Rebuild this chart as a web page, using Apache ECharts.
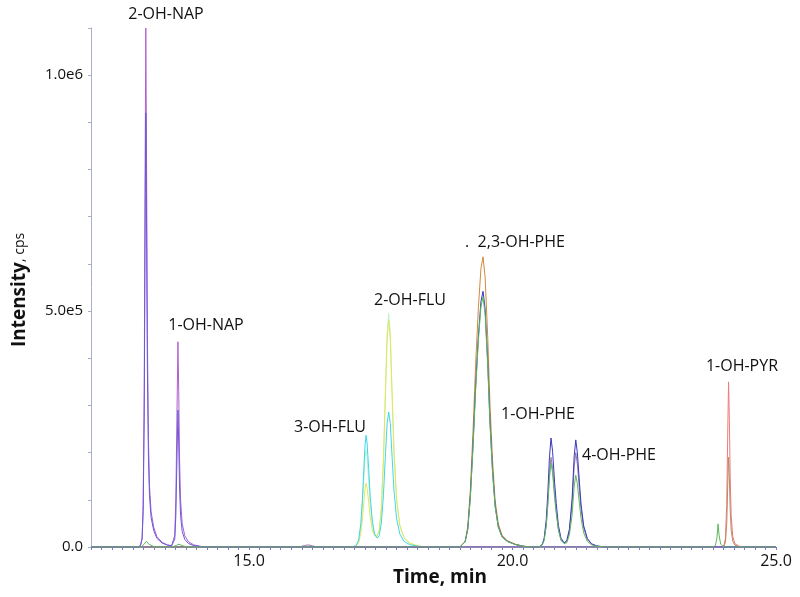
<!DOCTYPE html>
<html>
<head>
<meta charset="utf-8">
<script src="https://cdn.jsdelivr.net/npm/echarts@6/dist/echarts.min.js"></script>
<style>
html,body{margin:0;padding:0;background:#fff;}
#main{width:800px;height:597px;}
</style>
</head>
<body>
<div id="main"></div>
<script>
// ---- axis settings ----
const xMin = 12.0, xMax = 25.0;
const xTickLabels = [15, 20, 25];
const yTickLabels = [0, 500000, 1000000];
const yTickText = ['0.0', '5.0e5', '1.0e6'];

// ---- traces: [time (min), intensity (cps)] ----
// purple trace
const purpleNap2 = [[12.9,0],[12.94,4000],[12.97,20000],[12.99,90000],[13.01,330000],[13.025,750000],[13.04,1100000],[13.055,800000],[13.07,450000],[13.09,230000],[13.11,130000],[13.14,75000],[13.19,42000],[13.25,22000],[13.35,10000],[13.45,4500],[13.53,3000]];
const purpleNap1 = [[13.56,5000],[13.59,25000],[13.61,100000],[13.63,270000],[13.65,435000],[13.665,330000],[13.68,190000],[13.7,100000],[13.73,50000],[13.78,24000],[13.85,11000],[13.95,4500],[14.1,1000],[14.3,0]];
// violet trace
const violetNap2 = [[12.9,0],[12.94,3300],[12.97,16700],[12.99,75000],[13.01,276000],[13.025,627000],[13.04,920000],[13.055,670000],[13.07,376000],[13.09,192000],[13.11,109000],[13.14,63000],[13.19,35000],[13.25,18400],[13.35,8400],[13.45,3800],[13.53,2500]];
const violetNap1 = [[13.56,3300],[13.59,16700],[13.61,67000],[13.63,180000],[13.65,290000],[13.665,220000],[13.68,127000],[13.7,67000],[13.73,33000],[13.78,16000],[13.85,7300],[13.95,3000],[14.1,700],[14.3,0]];
// cyan trace
const cyanFlu = [[16.95,0],[17.03,3000],[17.08,15000],[17.12,50000],[17.15,100000],[17.18,170000],[17.2,215000],[17.22,237000],[17.24,220000],[17.27,165000],[17.3,105000],[17.34,55000],[17.38,28000],[17.43,19000],[17.47,24000],[17.51,50000],[17.55,110000],[17.59,200000],[17.62,262000],[17.65,286000],[17.68,262000],[17.71,200000],[17.75,120000],[17.8,60000],[17.86,28000],[17.94,12000],[18.05,5000],[18.2,1500],[18.35,0]];
// yellow trace
const yellowFlu = [[16.95,0],[17.03,2000],[17.08,9000],[17.12,29000],[17.15,58000],[17.18,98000],[17.2,124000],[17.22,135000],[17.24,125000],[17.27,95000],[17.3,62000],[17.34,36000],[17.38,24000],[17.43,22000],[17.47,34000],[17.51,80000],[17.55,180000],[17.59,330000],[17.62,440000],[17.65,480000],[17.68,440000],[17.71,335000],[17.75,200000],[17.8,100000],[17.86,46000],[17.94,20000],[18.05,8000],[18.2,2500],[18.35,0]];
// pale green trace
const paleFlu = [[16.95,0],[17.03,2500],[17.08,12000],[17.12,40000],[17.15,85000],[17.18,150000],[17.2,190000],[17.22,205000],[17.24,190000],[17.27,140000],[17.3,90000],[17.34,48000],[17.38,27000],[17.43,24000],[17.47,36000],[17.51,85000],[17.55,190000],[17.59,345000],[17.62,455000],[17.65,495000],[17.68,455000],[17.71,345000],[17.75,205000],[17.8,102000],[17.86,47000],[17.94,20000],[18.05,8000],[18.2,2500],[18.35,0]];
// orange trace
const orangePhe = [[19.0,0],[19.1,12000],[19.15,43000],[19.2,123000],[19.25,246000],[19.3,387000],[19.35,504000],[19.4,590000],[19.44,615000],[19.48,572000],[19.53,443000],[19.57,308000],[19.62,185000],[19.67,98000],[19.73,49000],[19.8,25000],[19.9,13500],[20.05,6000],[20.2,2000],[20.35,0]];
// dark blue trace
const bluePhe23 = [[19.0,0],[19.1,11000],[19.15,38000],[19.2,108000],[19.25,217000],[19.3,341000],[19.35,444000],[19.4,520000],[19.44,542000],[19.48,504000],[19.53,390000],[19.57,271000],[19.62,163000],[19.67,87000],[19.73,43000],[19.8,22000],[19.9,12000],[20.05,5400],[20.2,1600],[20.35,0]];
const bluePhe14 = [[20.5,0],[20.56,4600],[20.6,18500],[20.64,58000],[20.67,115000],[20.7,189000],[20.73,231000],[20.76,203000],[20.8,134000],[20.83,92000],[20.87,46000],[20.92,18500],[20.98,9000],[21.03,13600],[21.08,38600],[21.13,102000],[21.17,193000],[21.2,227000],[21.23,200000],[21.27,136000],[21.3,91000],[21.35,45000],[21.42,18000],[21.5,6800],[21.6,2300],[21.75,0]];
// mauve trace
const mauveBump = [[15.95,0],[16.05,3000],[16.12,4500],[16.2,2500],[16.3,0]];
const mauvePhe14 = [[20.5,0],[20.56,3800],[20.6,15200],[20.64,47500],[20.67,95000],[20.7,156000],[20.73,190000],[20.76,167000],[20.8,110000],[20.83,76000],[20.87,38000],[20.92,15200],[20.98,7600],[21.03,12000],[21.08,34000],[21.13,90000],[21.17,170000],[21.2,200000],[21.23,176000],[21.27,120000],[21.3,80000],[21.35,40000],[21.42,16000],[21.5,6000],[21.6,2000],[21.75,0]];
// green trace
const greenNap = [[12.95,0],[13.0,5000],[13.05,12000],[13.1,6000],[13.18,1500],[13.25,0],[13.55,0],[13.62,3500],[13.67,6000],[13.73,3000],[13.82,0]];
const greenPhe23 = [[19.0,0],[19.1,10600],[19.15,37000],[19.2,106000],[19.25,212000],[19.3,334000],[19.35,435000],[19.4,509000],[19.44,530000],[19.48,493000],[19.53,382000],[19.57,265000],[19.62,159000],[19.67,85000],[19.73,42000],[19.8,21000],[19.9,11700],[20.05,5300],[20.2,1600],[20.35,0]];
const greenPhe14 = [[20.5,0],[20.56,3600],[20.6,14000],[20.64,44500],[20.67,89000],[20.7,146000],[20.73,178000],[20.76,157000],[20.8,103000],[20.83,71000],[20.87,36000],[20.92,14000],[20.98,7000],[21.03,9000],[21.08,26000],[21.13,68000],[21.17,129000],[21.2,152000],[21.23,134000],[21.27,91000],[21.3,61000],[21.35,30000],[21.42,12000],[21.5,4600],[21.6,1500],[21.75,0]];
const greenPyr = [[23.8,0],[23.85,3000],[23.88,20000],[23.9,49000],[23.92,25000],[23.95,6000],[24.0,1000],[24.05,0]];
// red trace
const redPyr = [[23.95,0],[24.01,3000],[24.04,18000],[24.065,90000],[24.085,250000],[24.1,350000],[24.115,270000],[24.13,150000],[24.15,65000],[24.18,22000],[24.22,7000],[24.3,1500],[24.4,0]];
// brown trace
const brownPyr = [[23.95,0],[24.01,1600],[24.04,9800],[24.065,49000],[24.085,136000],[24.1,190000],[24.115,147000],[24.13,81000],[24.15,35000],[24.18,12000],[24.22,3800],[24.3,800],[24.4,0]];

// peak labels
const peakNames = ['2-OH-NAP', '1-OH-NAP', '3-OH-FLU', '2-OH-FLU', '.  2,3-OH-PHE', '1-OH-PHE', '4-OH-PHE', '1-OH-PYR'];

// ---- layout / style (not data) ----
const labelPos = [[166,14],[206,325],[330,427],[410,300],[515,242],[538,414],[619,455],[742,366]];
const gridBox = {left:91, right:24, top:28, bottom:50};

const start = [[xMin,0]], end = [[xMax,0]];
function trace(name, color, parts, z) {
  return {
    name: name, type: 'line', showSymbol: false, symbol: 'none', z: z || 2,
    lineStyle: {width: 1, color: color}, itemStyle: {color: color},
    data: start.concat(...parts, end), animation: false, clip: true
  };
}

const series = [
  trace('pale', '#bff2c8', [paleFlu], 1),
  trace('yellow', '#e4e65a', [yellowFlu], 2),
  trace('cyan', '#3fd6ea', [cyanFlu], 3),
  trace('orange', '#d08a3c', [orangePhe], 2),
  trace('green', '#5cb85c', [greenNap, greenPhe23, greenPhe14, greenPyr], 4),
  trace('mauve', '#9a7aa8', [mauveBump, mauvePhe14], 3),
  trace('blue', '#3838c0', [bluePhe23, bluePhe14], 3),
  trace('brown', '#b98a66', [brownPyr], 3),
  trace('red', '#f07a7a', [redPyr], 2),
  trace('purple', '#b060d0', [purpleNap2, purpleNap1], 2),
  trace('violet', '#6a5ad8', [violetNap2, violetNap1], 3)
];

const xTicks = [];
for (let i = 0; i <= 65; i++) xTicks.push(+(xMin + i * 0.2).toFixed(2));

const graphics = peakNames.map((n, i) => ({
  type: 'text', x: labelPos[i][0], y: labelPos[i][1],
  style: {text: n, font: '16px "Open Sans"', fill: '#111', align: 'center', verticalAlign: 'middle'}
}));
graphics.push({
  type: 'text', x: 440, y: 578,
  style: {text: 'Time, min', font: 'bold 19px "Open Sans"', fill: '#111', align: 'center', verticalAlign: 'middle'}
});
graphics.push({
  type: 'text', x: 20, y: 290, rotation: Math.PI / 2,
  style: {
    text: '{b|Intensity}{n|, cps}', align: 'center', verticalAlign: 'middle',
    rich: {b: {font: 'bold 19px "Open Sans"', fill: '#111'}, n: {font: '14px "Open Sans"', fill: '#111'}}
  }
});

const chart = echarts.init(document.getElementById('main'), null, {renderer: 'canvas'});
chart.setOption({
  backgroundColor: '#fff',
  animation: false,
  grid: gridBox,
  xAxis: {
    type: 'value', min: xMin, max: xMax,
    splitLine: {show: false},
    axisLine: {lineStyle: {color: '#7878e0', width: 1}},
    axisTick: {show: true, length: 3, customValues: xTicks, lineStyle: {color: '#7878e0'}},
    axisLabel: {customValues: xTickLabels, formatter: v => v.toFixed(1), color: '#111', fontSize: 16, fontFamily: 'Open Sans', margin: 6}
  },
  yAxis: {
    type: 'value', min: 0, max: 1100000, interval: 100000,
    splitLine: {show: false},
    axisLine: {show: true, lineStyle: {color: '#a8b0c8', width: 1}},
    axisTick: {show: true, length: 3, lineStyle: {color: '#a8b0c8'}},
    axisLabel: {
      color: '#111', fontSize: 15, fontFamily: 'Open Sans', margin: 8,
      formatter: v => { const k = yTickLabels.indexOf(v); return k >= 0 ? yTickText[k] : ''; }
    }
  },
  series: series,
  graphic: graphics
});
</script>
</body>
</html>
